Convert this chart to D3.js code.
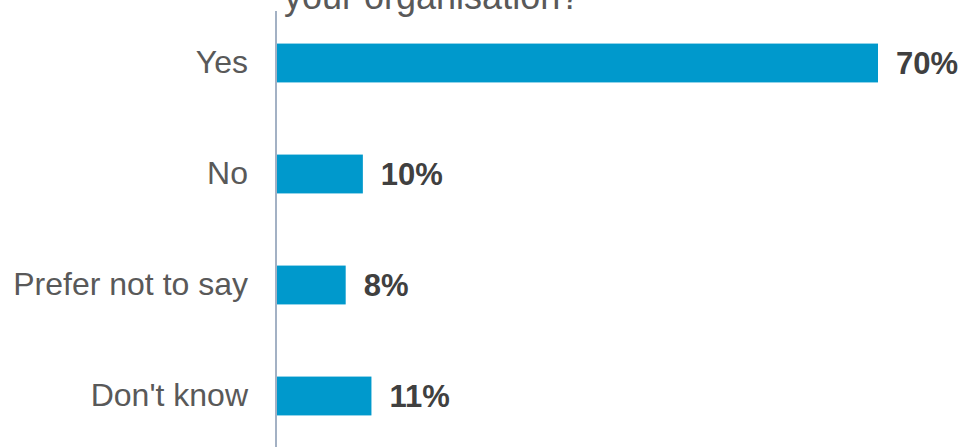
<!DOCTYPE html>
<html>
<head>
<meta charset="utf-8">
<script src="https://cdn.jsdelivr.net/npm/d3@7"></script>
<style>
  html, body { margin: 0; padding: 0; background: #ffffff; }
  svg { display: block; }
</style>
</head>
<body>
<svg id="chart" width="973" height="447"></svg>
<script>
// Survey answers and their shares (percent)
const categories = ["Yes", "No", "Prefer not to say", "Don't know"];
const shares = [70, 10, 8, 11];
const titleText = "your organisation?";

const width = 973, height = 447;
const svg = d3.select("#chart");

const x = d3.scaleLinear()
  .domain([0, 70])
  .range([277, 878]);

const y = d3.scaleBand()
  .domain(categories)
  .range([7.5, 451.5])
  .paddingInner(0.65)
  .paddingOuter(0.325);

// Title (second line, running above the top edge)
svg.append("text")
  .attr("x", 284)
  .attr("y", 9)
  .attr("font-family", "Liberation Sans, Arial, sans-serif")
  .attr("font-size", 36)
  .attr("fill", "#595959")
  .text(titleText);

// Bars
svg.selectAll("rect.bar")
  .data(categories)
  .join("rect")
  .attr("class", "bar")
  .attr("x", x(0))
  .attr("y", d => y(d))
  .attr("width", (d, i) => x(shares[i]) - x(0))
  .attr("height", y.bandwidth())
  .attr("fill", "#0099CC");

// Category axis
const axis = d3.axisLeft(y).tickSize(0).tickPadding(28);
const gAxis = svg.append("g")
  .attr("transform", `translate(${x(0) - 1},0)`)
  .call(axis);
gAxis.select(".domain").remove();
gAxis.selectAll("text")
  .attr("font-family", "Liberation Sans, Arial, sans-serif")
  .attr("font-size", 32)
  .attr("fill", "#595959");

svg.append("line")
  .attr("x1", x(0) - 1).attr("x2", x(0) - 1)
  .attr("y1", 11).attr("y2", height)
  .attr("stroke", "#8497B0")
  .attr("stroke-width", 1.5);

// Value labels
svg.selectAll("text.value")
  .data(categories)
  .join("text")
  .attr("class", "value")
  .attr("x", (d, i) => x(shares[i]) + 18)
  .attr("y", d => y(d) + y.bandwidth() / 2)
  .attr("dy", "0.36em")
  .attr("font-family", "Liberation Sans, Arial, sans-serif")
  .attr("font-weight", "bold")
  .attr("font-size", 31)
  .attr("fill", "#404040")
  .text((d, i) => shares[i] + "%");
</script>
</body>
</html>
